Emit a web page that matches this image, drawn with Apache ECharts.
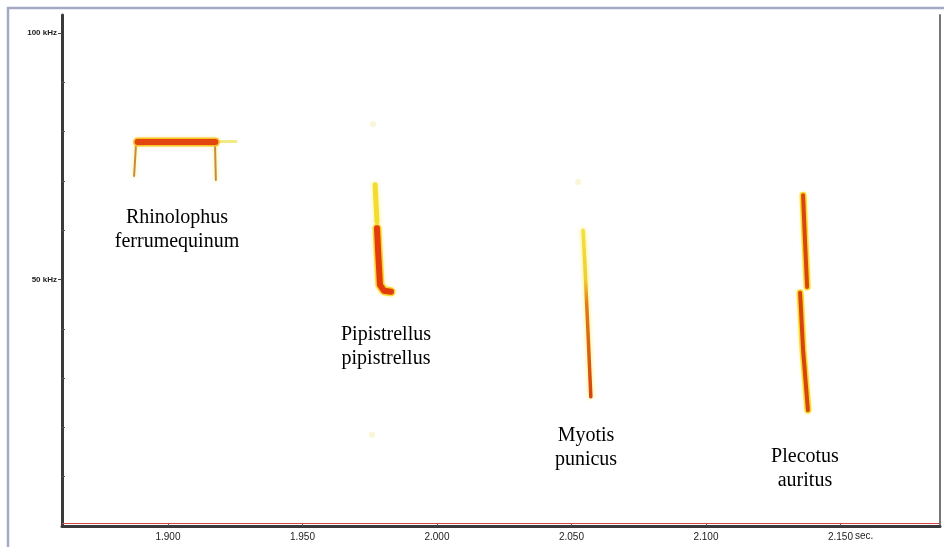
<!DOCTYPE html>
<html>
<head>
<meta charset="utf-8">
<script src="https://cdn.jsdelivr.net/npm/echarts@6/dist/echarts.min.js"></script>
<style>
html,body{margin:0;padding:0;background:#fff;}
#chart{width:944px;height:547px;}
</style>
</head>
<body>
<div id="chart"></div>
<script>
// Axis settings (seconds / kHz)
var timeMin = 1.8606, timeMax = 2.187;
var freqMin = 0, freqMax = 103.65;
var xTickValues = [1.90, 1.95, 2.00, 2.05, 2.10, 2.15];
var xTickLabels = ['1.900', '1.950', '2.000', '2.050', '2.100', '2.150'];
var yLabelValues = [50, 100];
var yLabelTexts = ['50 kHz', '100 kHz'];
var yMinorTicks = [10, 20, 30, 40, 60, 70, 80, 90];

// Call traces: [time s, frequency kHz]
var rhinoBand = [[1.8887, 77.9], [1.9176, 77.9]];
var rhinoTail = [[1.9178, 78.0], [1.9253, 78.0]];
var rhinoLegL = [[1.8881, 77.3], [1.8874, 71.0]];
var rhinoLegR = [[1.9175, 77.1], [1.9178, 70.2]];
var pipiUpper = [[1.9770, 69.2], [1.9777, 61.7]];
var pipiLower = [[1.9777, 60.4], [1.9781, 56.0], [1.9788, 48.9], [1.9803, 47.7], [1.9829, 47.5]];
var myotis = [[2.0543, 60.0], [2.0550, 52.9], [2.0561, 39.8], [2.0572, 26.2]];
var plecoUpper = [[2.1361, 67.1], [2.1368, 58.0], [2.1376, 48.5]];
var plecoLower = [[2.1350, 47.3], [2.1361, 35.7], [2.1379, 23.5]];
var faintDots = [[1.9762, 81.5], [1.9758, 18.5], [2.0525, 69.8]];

// Species labels at [time, frequency]
var labelNames = ['Rhinolophus\nferrumequinum', 'Pipistrellus\npipistrellus', 'Myotis\npunicus', 'Plecotus\nauritus'];
var labelPos = [[1.90335, 60.1], [1.98105, 36.4], [2.0554, 15.8], [2.1368, 11.7]];

function trace(data, width, color, glow, z) {
  return {
    type: 'line', data: data, symbol: 'none', silent: true, z: z || 3,
    lineStyle: { width: width, color: color, cap: 'round', join: 'round',
      shadowColor: glow || 'rgba(0,0,0,0)', shadowBlur: glow ? 4 : 0 },
    animation: false
  };
}
function grad(stops) {
  return new echarts.graphic.LinearGradient(0, 0, 0, 1, stops.map(function (s) { return { offset: s[0], color: s[1] }; }));
}

var chart = echarts.init(document.getElementById('chart'), null, { renderer: 'canvas' });
var labelData = labelNames.map(function (n, i) { return { name: n, value: labelPos[i] }; });

chart.setOption({
  backgroundColor: '#ffffff',
  animation: false,
  grid: { left: 62, right: 4, top: 15, bottom: 21, containLabel: false },
  xAxis: {
    type: 'value', min: timeMin, max: timeMax,
    axisLine: { show: true, onZero: false, lineStyle: { color: '#3a3a3a', width: 3 } },
    axisTick: { show: true, inside: true, length: 3, customValues: xTickValues, lineStyle: { color: '#555', width: 1 } },
    axisLabel: { show: true, customValues: xTickValues, margin: 6, fontSize: 10, color: '#222',
      fontFamily: 'Liberation Sans, Arial, sans-serif',
      formatter: function (v) { var i = xTickValues.findIndex(function (t) { return Math.abs(t - v) < 1e-6; }); return i >= 0 ? xTickLabels[i] : ''; } },
    splitLine: { show: false }
  },
  yAxis: [{
    type: 'value', min: freqMin, max: freqMax,
    axisLine: { show: true, onZero: false, lineStyle: { color: '#3a3a3a', width: 3 } },
    axisTick: { show: true, inside: false, length: 4, customValues: yLabelValues, lineStyle: { color: '#444', width: 1 } },
    axisLabel: { show: true, customValues: yLabelValues, margin: 5, fontSize: 8, color: '#222', fontWeight: 'bold',
      fontFamily: 'Liberation Sans, Arial, sans-serif',
      formatter: function (v) { var i = yLabelValues.indexOf(Math.round(v)); return i >= 0 ? yLabelTexts[i] : ''; } },
    splitLine: { show: false }
  }, {
    type: 'value', min: freqMin, max: freqMax, position: 'left',
    axisLine: { show: false },
    axisTick: { show: true, inside: true, length: 3, customValues: yMinorTicks, lineStyle: { color: '#555', width: 1 } },
    axisLabel: { show: false },
    splitLine: { show: false }
  }, {
    type: 'value', min: freqMin, max: freqMax, position: 'right',
    axisLine: { show: true, lineStyle: { color: '#777', width: 2 } },
    axisTick: { show: false }, axisLabel: { show: false }, splitLine: { show: false }
  }],
  graphic: [
    { type: 'rect', z: 100, silent: true, shape: { x: 8, y: 8, width: 1000, height: 620 },
      style: { fill: null, stroke: '#a4a9c6', lineWidth: 2.5 } },
    { type: 'text', z: 100, left: 855, top: 531, silent: true,
      style: { text: 'sec.', fontSize: 10, fill: '#222', fontFamily: 'Liberation Sans, Arial, sans-serif' } }
  ],
  series: [
    // red line just above the time axis
    { type: 'line', data: [], silent: true, markLine: { silent: true, symbol: 'none', label: { show: false },
        lineStyle: { color: '#d04848', width: 1, type: 'solid', opacity: 1 }, emphasis: { disabled: true }, data: [{ yAxis: 0.6 }] } },
    { type: 'scatter', data: faintDots, symbolSize: 6, silent: true, itemStyle: { color: 'rgba(245,240,190,0.8)' } },
    // Rhinolophus
    trace(rhinoTail, 3, 'rgba(240,232,120,0.9)', null, 2),
    trace(rhinoLegL, 2, '#c98a3a', 'rgba(250,230,80,0.8)'),
    trace(rhinoLegR, 2, '#c98a3a', 'rgba(250,230,80,0.8)'),
    trace(rhinoBand, 9, '#f7c23a', null, 3),
    trace(rhinoBand, 6, '#e2460e', 'rgba(255,200,0,0.8)', 4),
    // Pipistrellus
    trace(pipiUpper, 5, '#f2dd2e', 'rgba(255,240,120,0.9)'),
    trace(pipiLower, 9, '#f7d640', null, 3),
    trace(pipiLower, 6, '#e23c0c', 'rgba(255,210,0,0.8)', 4),
    // Myotis
    trace(myotis, 3.5, grad([[0, '#f3e23a'], [0.3, '#eecf30'], [0.45, '#e07a18'], [1, '#d3440e']]), 'rgba(255,230,60,0.9)'),
    // Plecotus
    trace(plecoUpper, 7, '#f5dc38', null, 3),
    trace(plecoUpper, 4, '#da4410', 'rgba(255,220,0,0.7)', 4),
    trace(plecoLower, 7, '#f5dc38', null, 3),
    trace(plecoLower, 4, '#d84410', 'rgba(255,220,0,0.7)', 4),
    // Species labels
    { type: 'scatter', data: labelData, symbolSize: 0, silent: true, z: 10,
      itemStyle: { opacity: 1 },
      label: { show: true, position: 'inside', formatter: function (p) { return p.name; },
        fontFamily: 'Liberation Serif, Times New Roman, serif', fontSize: 20, lineHeight: 24, color: '#000', opacity: 1,
        textBorderWidth: 0 } }
  ]
});
</script>
</body>
</html>
